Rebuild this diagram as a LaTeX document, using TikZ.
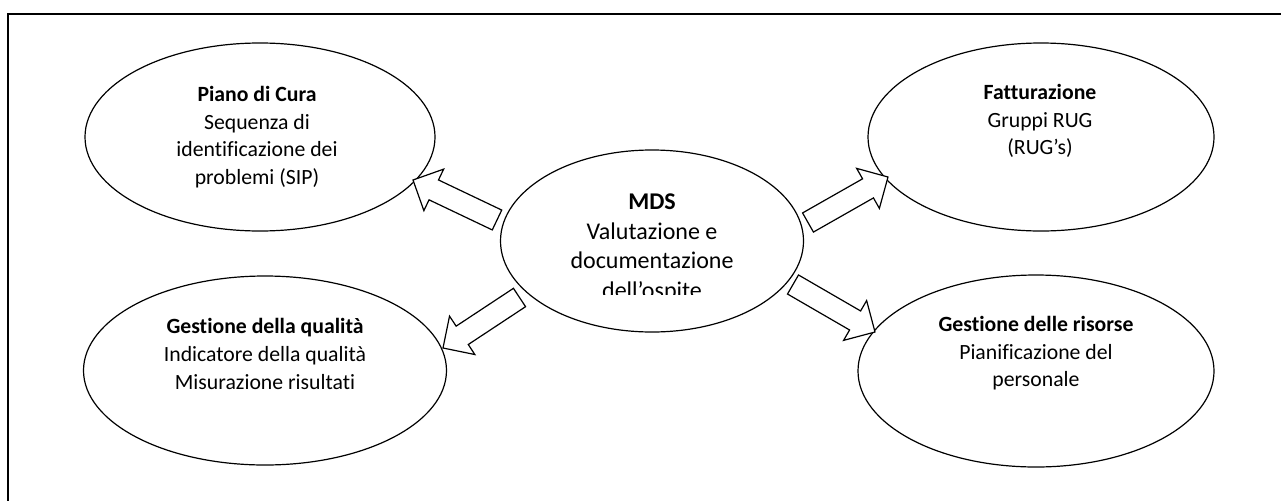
\documentclass[tikz,border=0pt]{standalone}
\usepackage{fontspec}
\setmainfont{Carlito}[Ligatures={TeX,NoCommon}]
\usetikzlibrary{shapes.geometric,calc}
\newcommand\sw{8.25pt}
\newcommand\hw{17.25pt}
\newcommand\hl{17.25pt}
\newcommand\blockarrow[2]{%
  \draw[barrow] ($(#1)!\sw!90:(#2)$) -- ($(#2)!\hl!(#1)!\sw!90:(#2)$)
    -- ($(#2)!\hl!(#1)!\hw!90:(#2)$) -- (#2)
    -- ($(#2)!\hl!(#1)!\hw!-90:(#2)$) -- ($(#2)!\hl!(#1)!\sw!-90:(#2)$)
    -- ($(#1)!\sw!-90:(#2)$) -- cycle;}
\tikzset{
  bubble/.style={ellipse, draw, line width=0.9pt, inner sep=0pt},
  txt/.style={align=center, font=\fontsize{16.3}{20.7}\selectfont, inner sep=0pt},
  bigtxt/.style={align=center, font=\fontsize{18}{22.3}\selectfont, inner sep=0pt},
  barrow/.style={draw, line width=0.9pt, fill=white, line join=miter},
  frame/.style={draw, line width=1.5pt},
}
\begin{document}
\begin{tikzpicture}[x=0.75pt, y=-0.75pt]
\clip (0,0) rectangle (1281,500);
\draw[frame] (7.5,14) rectangle (1300,520);
% ellipses
\node[bubble, minimum width={350*0.75pt}, minimum height={188*0.75pt}] (pc) at (260,137) {};
\node[bubble, minimum width={363*0.75pt}, minimum height={189*0.75pt}] (gq) at (265,370.5) {};
\node[bubble, minimum width={303*0.75pt}, minimum height={182*0.75pt}] (mds) at (652,241) {};
\node[bubble, minimum width={346*0.75pt}, minimum height={188*0.75pt}] (fat) at (1041,137) {};
\node[bubble, minimum width={356*0.75pt}, minimum height={192*0.75pt}] (gr) at (1036,371) {};
% texts
\node[txt] (pct) at (257,137) {\textbf{Piano di Cura}\\Sequenza di\\identificazione dei\\problemi (SIP)};
\node[txt] (gqt) at (265,354) {\textbf{Gestione della qualità}\\Indicatore della qualità\\Misurazione risultati};
\node[txt] (fatt) at (1040,121) {\textbf{Fatturazione}\\Gruppi RUG\\(RUG’s)};
\node[txt] (grt) at (1036,353.5) {\textbf{Gestione delle risorse}\\Pianificazione del\\personale};
\begin{scope}
\clip (500,160) rectangle (805,294);
\node[bigtxt] (mdst) at (652,248) {\textbf{MDS}\\Valutazione e\\documentazione\\dell’ospite};
\end{scope}
% arrows
\coordinate (a1t) at (497,220);   \coordinate (a1h) at (413,180);
\coordinate (a2t) at (808,222.5); \coordinate (a2h) at (888,177);
\coordinate (a3t) at (519.5,297.5); \coordinate (a3h) at (443,348);
\coordinate (a4t) at (793,284.5); \coordinate (a4h) at (875,332);
\blockarrow{a1t}{a1h}
\blockarrow{a2t}{a2h}
\blockarrow{a3t}{a3h}
\blockarrow{a4t}{a4h}
\end{tikzpicture}
\end{document}
